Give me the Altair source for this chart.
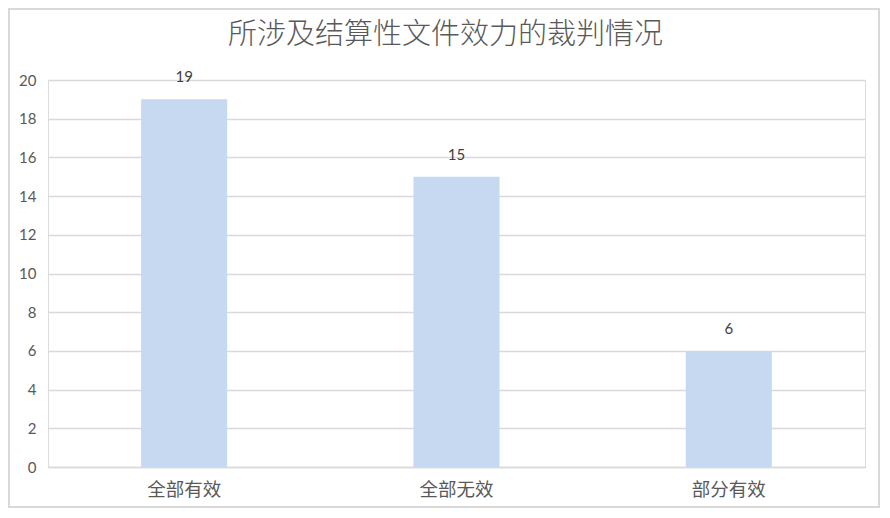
import altair as alt
import pandas as pd

categories = ["全部有效", "全部无效", "部分有效"]
counts = [19, 15, 6]
title_text = "所涉及结算性文件效力的裁判情况"
y_ticks = [0, 2, 4, 6, 8, 10, 12, 14, 16, 18, 20]

df = pd.DataFrame({"类别": categories, "数量": counts})

W, H = 817, 387
CJK = "Noto Sans CJK SC"
NUM = "Lato"

base = alt.Chart(df).encode(
    x=alt.X(
        "类别:N",
        sort=categories,
        title=None,
        scale=alt.Scale(paddingInner=0.684, paddingOuter=0.342),
        axis=alt.Axis(
            labelAngle=0,
            labelFont=CJK,
            labelFontSize=18.5,
            labelColor="#595959",
            labelPadding=13,
            ticks=False,
            domainColor="#D9D9D9",
            domainWidth=1.3,
            grid=False,
        ),
    ),
    y=alt.Y(
        "数量:Q",
        title=None,
        scale=alt.Scale(domain=[0, 20], nice=False),
        axis=alt.Axis(
            values=y_ticks,
            labelOverlap=False,
            labelFont=NUM,
            labelFontSize=15,
            labelColor="#595959",
            labelPadding=12,
            ticks=False,
            domain=False,
            gridColor="#D9D9D9",
            gridWidth=1.3,
        ),
    ),
)

bars = base.mark_bar(color="#C6D9F1")

labels = base.mark_text(
    font=NUM, fontSize=15, color="#404040", baseline="bottom", dy=-14
).encode(text=alt.Text("数量:Q"))

frame = alt.Chart(pd.DataFrame({"k": [0]})).mark_rect(
    fill="transparent", stroke="#D9D9D9", strokeWidth=2
).encode(
    x=alt.value(-39), x2=alt.value(W + 14), y=alt.value(-71), y2=alt.value(H + 40)
)

chart = (
    alt.layer(frame, bars, labels)
    .properties(
        width=W,
        height=H,
        padding={"left": 40, "top": 72, "right": 15, "bottom": 42},
        autosize=alt.AutoSizeParams(type="none"),
        title=alt.TitleParams(
            title_text,
            font=CJK,
            fontSize=29,
            fontWeight=300,
            color="#595959",
            anchor="middle",
            dx=-11,
            offset=-42,
        ),
    )
    .configure_view(strokeWidth=0)
    .configure(background="white")
)

chart.save("out.html", embed_options={"renderer": "svg", "actions": False})
